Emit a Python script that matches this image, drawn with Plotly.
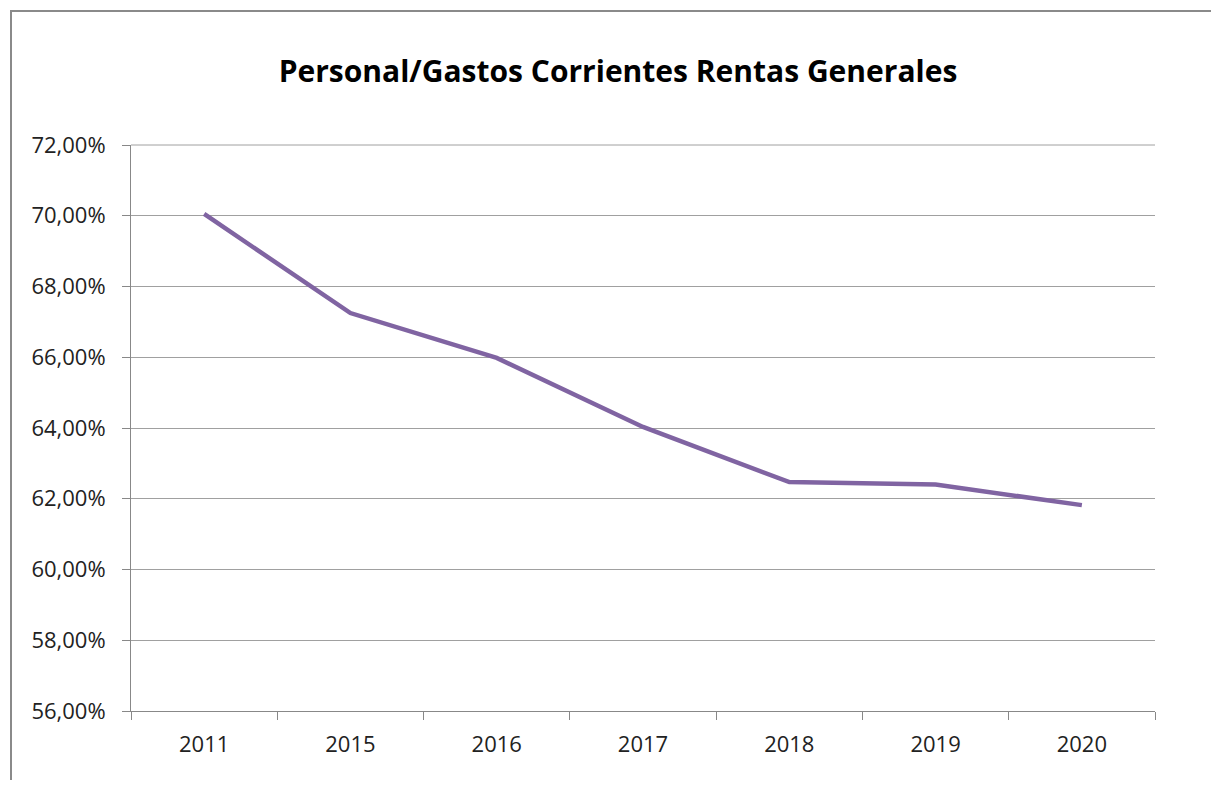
import plotly.graph_objects as go

years = ["2011", "2015", "2016", "2017", "2018", "2019", "2020"]
values = [0.7005, 0.6725, 0.6598, 0.6403, 0.6247, 0.6240, 0.6182]

OFF = 8  # default page body margin
W, H = 1219 - 2 * OFF, 788 - 2 * OFF
L, T = 131 - OFF, 145 - OFF
R = W - (1155 - OFF)
B = H - (711 - OFF)
pw, ph = W - L - R, H - T - B

def px_x(p):
    return (p - OFF - L) / pw

def px_y(p):
    return (H - B - (p - OFF)) / ph

fig = go.Figure()
fig.add_trace(go.Scatter(
    x=years, y=values, mode="lines",
    line=dict(color="#8064A2", width=4.5),
    hoverinfo="skip", showlegend=False,
))

frame_col = "#8a8a8a"
grid = dict(color="#a0a0a0", width=1)

fig.update_layout(
    width=W, height=H,
    margin=dict(l=L, r=R, t=T, b=B),
    paper_bgcolor="white", plot_bgcolor="white",
    separators=",.",
    font=dict(family="Open Sans", size=22, color="#222222"),
    title=dict(
        text="<b>Personal/Gastos Corrientes Rentas Generales</b>",
        x=(618 - OFF) / W, xanchor="center", xref="container",
        y=1 - (71 - OFF) / H, yanchor="middle", yref="container",
        font=dict(family="Open Sans", size=30, color="black"),
    ),
    xaxis=dict(
        type="category", tickson="boundaries",
        ticks="outside", ticklen=8, tickcolor="#888888", tickwidth=1,
        showline=True, linecolor="#888888", linewidth=1,
        showgrid=False, range=[-0.5, 6.5],
        ticklabelstandoff=14,
        tickfont=dict(size=22, color="#222222"),
    ),
    yaxis=dict(
        range=[0.56, 0.72], dtick=0.02, tick0=0.56, tickformat=".2%",
        ticks="outside", ticklen=8, tickcolor="#888888", tickwidth=1,
        showline=True, linecolor="#888888", linewidth=1,
        showgrid=True, gridcolor="#a0a0a0", gridwidth=1,
        zeroline=False,
        ticklabelstandoff=12,
        tickfont=dict(size=22, color="#222222"),
    ),
    shapes=[
        dict(type="line", xref="paper", yref="paper", x0=0, x1=1, y0=1, y1=1,
             line=grid, layer="below"),
        # top edge of chart frame (filled strip, no stroke)
        dict(type="rect", xref="paper", yref="paper",
             x0=px_x(10), x1=px_x(1219), y0=px_y(12), y1=px_y(10),
             line=dict(width=0), fillcolor=frame_col),
        # left edge of chart frame
        dict(type="rect", xref="paper", yref="paper",
             x0=px_x(10), x1=px_x(12), y0=px_y(788), y1=px_y(10),
             line=dict(width=0), fillcolor=frame_col),
    ],
)

fig.write_html("out.html")
